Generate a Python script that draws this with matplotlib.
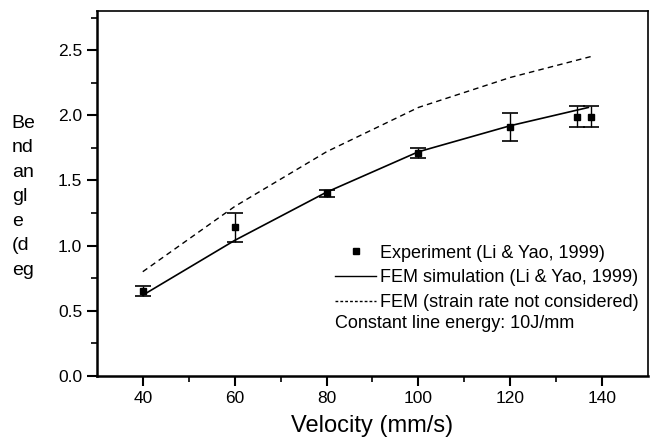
import numpy as np
import matplotlib.pyplot as plt
from matplotlib.lines import Line2D

plt.rcParams['font.family'] = ['Liberation Sans', 'DejaVu Sans']

# experiment (Li & Yao, 1999)
exp_v = [40, 60, 80, 100, 120, 134.5, 137.5]
exp_angle = [0.65, 1.14, 1.40, 1.71, 1.91, 1.99, 1.99]
exp_err = [0.04, 0.11, 0.03, 0.04, 0.11, 0.08, 0.08]

# FEM simulation (Li & Yao, 1999)
fem_v = [40, 60, 80, 100, 120, 137]
fem_angle = [0.62, 1.04, 1.41, 1.72, 1.92, 2.06]

# FEM without strain rate
fem_nsr_v = [40, 60, 80, 100, 120, 137.5]
fem_nsr_angle = [0.80, 1.30, 1.72, 2.06, 2.29, 2.45]

fig = plt.figure(figsize=(6.5, 4.4), dpi=100)
ax = fig.add_axes([0.149, 0.1455, 0.848, 0.8295])

ax.plot(fem_v, fem_angle, color='black', lw=1.2)
ax.plot(fem_nsr_v, fem_nsr_angle, color='black', lw=1.0, linestyle=(0, (4, 3)))
ax.errorbar(exp_v, exp_angle, yerr=exp_err, fmt='s', color='black', ms=5,
            capsize=6, elinewidth=1.0, capthick=1.2)

ax.set_xlim(30, 150)
ax.set_ylim(0, 2.8)
ax.set_xticks([40, 60, 80, 100, 120, 140])
ax.set_xticks(np.arange(50, 150, 20), minor=True)
ax.set_yticks([0.0, 0.5, 1.0, 1.5, 2.0, 2.5])
ax.set_yticklabels(['0.0', '0.5', '1.0', '1.5', '2.0', '2.5'])
ax.set_yticks(np.arange(0.25, 2.8, 0.5), minor=True)
ax.tick_params(which='major', direction='out', length=7, width=1.5, labelsize=12.5)
ax.tick_params(which='minor', direction='out', length=4, width=1.2)
for s in ['left', 'bottom']:
    ax.spines[s].set_linewidth(1.8)
for s in ['top', 'right']:
    ax.spines[s].set_linewidth(1.2)

ax.set_xlabel('Velocity (mm/s)', fontsize=17, labelpad=7)
fig.text(0.018, 0.553, 'Be\nnd\nan\ngl\ne\n(d\neg', fontsize=14,
         ha='left', va='center', linespacing=1.58)

handles = [
    Line2D([], [], color='black', marker='s', ms=4.5, linestyle='none'),
    Line2D([], [], color='black', lw=1.0),
    Line2D([], [], color='black', lw=1.0, linestyle=(0, (2, 1.5))),
]
labels = ['Experiment (Li & Yao, 1999)', 'FEM simulation (Li & Yao, 1999)',
          'FEM (strain rate not considered)']
ax.legend(handles, labels, loc='upper left', bbox_to_anchor=(0.432, 0.36),
          frameon=False, fontsize=13, handlelength=2.3, handletextpad=0.2,
          labelspacing=0.43, borderpad=0, borderaxespad=0)
ax.text(0.432, 0.145, 'Constant line energy: 10J/mm', transform=ax.transAxes,
        fontsize=13, ha='left', va='center')

fig.savefig('out.png', dpi=100)
